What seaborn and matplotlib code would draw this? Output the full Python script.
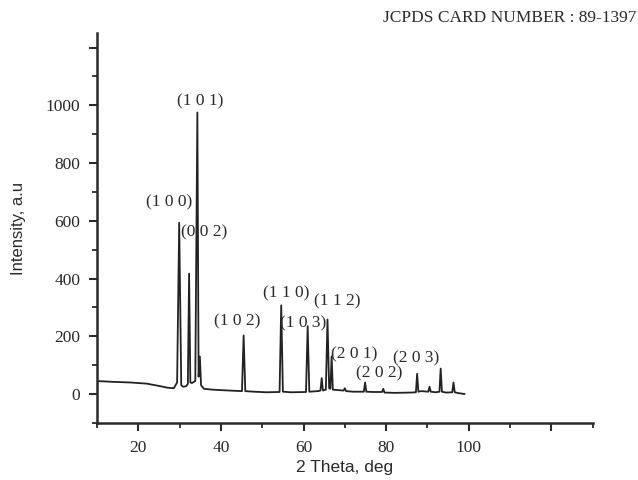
import matplotlib
matplotlib.use("Agg")
import matplotlib.pyplot as plt
import seaborn as sns
import pandas as pd
from matplotlib.ticker import MultipleLocator, FixedLocator

# XRD pattern (2 theta in deg, intensity in a.u.)
two_theta = [10, 14, 18, 22, 25, 27, 28.6, 29.4, 29.9, 30.4, 30.9, 31.6, 32.0,
             32.3, 32.6, 33.0, 33.8, 34.3, 34.6, 34.9, 35.2, 35.9, 38, 42,
             45.1, 45.5, 45.9, 48, 51, 54.2, 54.6, 55.0, 57, 60.6, 61.0, 61.4,
             63.5, 64.1, 64.4, 64.7, 65.4, 65.8, 66.2, 66.5, 66.8, 67.1, 68,
             69.7, 70.0, 70.3, 72, 74.6, 74.9, 75.2, 77, 79.0, 79.3, 79.6, 82,
             86, 87.2, 87.5, 87.8, 88.5, 90.2, 90.5, 90.8, 92, 92.9, 93.2, 93.5,
             94.5, 96.0, 96.3, 96.6, 97.5, 99]
intensity = [45, 42, 40, 36, 28, 22, 20, 40, 593, 30, 25, 27, 35,
             417, 40, 38, 45, 975, 60, 130, 30, 18, 15, 12,
             10, 203, 10, 8, 6, 7, 307, 8, 6, 7, 235, 8,
             10, 12, 55, 12, 15, 258, 20, 18, 130, 15, 14,
             12, 20, 10, 8, 8, 40, 8, 7, 7, 18, 5, 4,
             5, 6, 70, 8, 10, 8, 25, 8, 6, 8, 88, 8,
             5, 6, 40, 6, 3, 0]

# Miller indices and where their labels sit
hkl_labels = ["(1 0 0)", "(1 0 1)", "(0 0 2)", "(1 0 2)", "(1 1 0)", "(1 0 3)",
              "(1 1 2)", "(2 0 1)", "(2 0 2)", "(2 0 3)"]
label_x = [27.5, 34.9, 35.9, 44.0, 55.9, 59.8, 68.1, 72.2, 78.3, 87.2]
label_y = [664, 1014, 560, 252, 349, 245, 322, 138, 73, 124]

df = pd.DataFrame({"two_theta": two_theta, "intensity": intensity})

sns.set_style("ticks")
plt.rcParams["font.family"] = ["Liberation Serif", "DejaVu Serif"]
ink = "#2a2a2a"

fig = plt.figure(figsize=(6.38, 4.8), dpi=100)
ax = fig.add_axes([0.152, 0.119, 0.777, 0.812])

sns.lineplot(data=df, x="two_theta", y="intensity", ax=ax, color="#222222",
             linewidth=1.3, estimator=None, sort=True)

for lab, lx, ly in zip(hkl_labels, label_x, label_y):
    ax.text(lx, ly, lab, ha="center", va="center", fontsize=12.5, color=ink)

ax.set_xlim(10, 130)
ax.set_ylim(-100, 1250)
ax.xaxis.set_major_locator(FixedLocator([20, 40, 60, 80, 100, 120]))
ax.xaxis.set_minor_locator(MultipleLocator(10))
ax.set_xticklabels(["20", "40", "60", "80", "100", ""])
ax.yaxis.set_major_locator(FixedLocator([0, 200, 400, 600, 800, 1000, 1200]))
ax.yaxis.set_minor_locator(MultipleLocator(100))
ax.set_yticklabels(["0", "200", "400", "600", "800", "1000", ""])

ax.tick_params(which="major", direction="out", length=6, width=1.5,
               labelsize=12.5, colors=ink, pad=6)
ax.tick_params(which="minor", direction="out", length=3.5, width=1.3, colors=ink)

sns.despine(ax=ax)
for side in ["left", "bottom"]:
    ax.spines[side].set_linewidth(1.8)
    ax.spines[side].set_color(ink)

ax.set_xlabel("2 Theta, deg", fontsize=12.5, family="Liberation Sans", color=ink, labelpad=3)
ax.set_ylabel("Intensity, a.u", fontsize=12, family="Liberation Sans", color=ink, labelpad=14)

fig.text(0.997, 0.962, "JCPDS CARD NUMBER : 89-1397", ha="right", va="center",
         fontsize=12.5, color=ink)

fig.savefig("out.png", dpi=100)
